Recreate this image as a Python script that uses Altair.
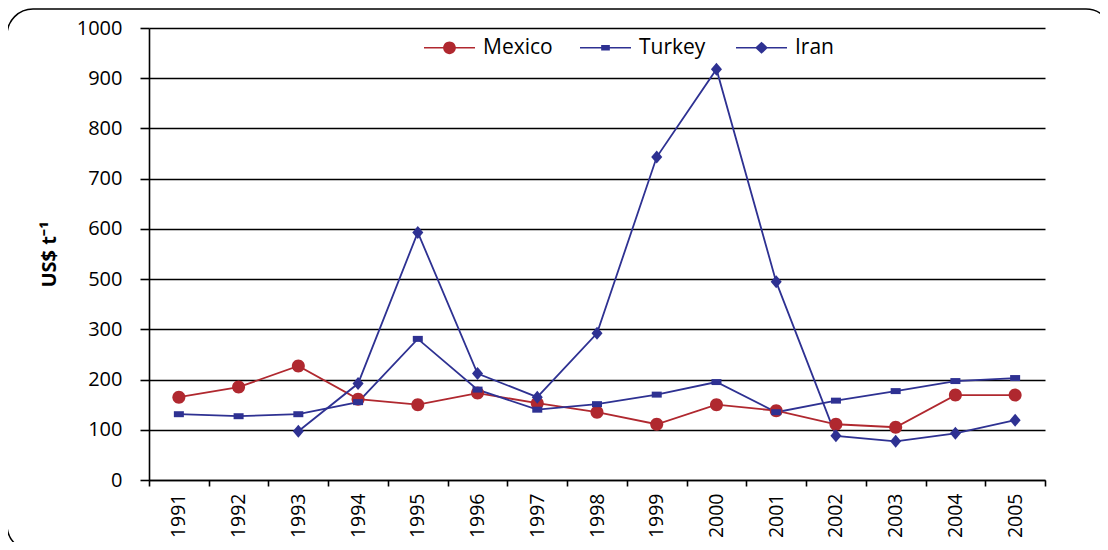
import altair as alt
import pandas as pd

years = [str(y) for y in range(1991, 2006)]
mexico = [165, 185, 227, 161, 150, 173, 153, 135, 111, 150, 138, 111, 105, 169, 169]
turkey = [131, 127, 131, 155, 281, 180, 140, 151, 170, 195, 135, 158, 177, 197, 203]
iran = [None, None, 97, 192, 593, 212, 165, 292, 743, 918, 489, 88, 77, 93, 119]

countries = ["Mexico", "Turkey", "Iran"]
colors = ["#B0282F", "#2E3192", "#2E3192"]
y_ticks = [0, 100, 200, 300, 500, 600, 700, 800, 900, 1000]

rows = []
for name, vals in zip(countries, [mexico, turkey, iran]):
    for yr, v in zip(years, vals):
        if v is not None:
            rows.append({"country": name, "year": yr, "value": v})
df = pd.DataFrame(rows)

W, H = 896, 452
FONT = "Open Sans"

# plot marker shapes (custom paths, size 169 -> 13px box)
plot_shapes = {
    "Mexico": "M1,0A1,1 0 1 1 -1,0A1,1 0 1 1 1,0Z",
    "Turkey": "M-0.77,-0.46H0.77V0.46H-0.77Z",
    "Iran": "M0,-1L0.85,0L0,1L-0.85,0Z",
}
# legend symbols: line + marker (size 2601 -> 51px box)
seg = "M-1,-0.03H1V0.03H-1Z "
legend_shapes = [
    seg + "M0.25,0A0.25,0.25 0 1 1 -0.25,0A0.25,0.25 0 1 1 0.25,0Z",
    seg + "M-0.17,-0.11H0.17V0.11H-0.17Z",
    seg + "M0,-0.24L0.25,0L0,0.24L-0.25,0Z",
]

x_enc = alt.X(
    "year:N",
    sort=years,
    scale=alt.Scale(paddingInner=0, paddingOuter=0),
    axis=alt.Axis(
        title=None, labelAngle=270, tickBand="extent", labelFontSize=19.5,
        labelFont=FONT, labelColor="black", labelPadding=7, tickSize=6,
        tickColor="black", tickWidth=1.6, domainColor="black", domainWidth=1.6,
        grid=False,
    ),
)
y_enc = alt.Y(
    "value:Q",
    scale=alt.Scale(domain=[0, 300, 500, 1000], range=[H, H * 6 / 9, H * 5 / 9, 0], nice=False, zero=False),
    axis=alt.Axis(
        values=y_ticks, format="d", title="US$ t⁻¹", titleFont=FONT, titleFontSize=20,
        titleFontWeight="bold", titleColor="black", titlePadding=17,
        labelFontSize=20, labelFont=FONT, labelColor="black", labelPadding=18,
        tickSize=9, tickColor="black", tickWidth=1.6, domainColor="black",
        domainWidth=1.6, grid=True, gridColor="black", gridWidth=1.6,
    ),
)

base = alt.Chart(df)

frame = alt.Chart(pd.DataFrame({"a": [0]})).mark_rect(
    fillOpacity=0, stroke="black", strokeWidth=1.5, cornerRadius=26
).encode(
    x=alt.value(-142), x2=alt.value(963), y=alt.value(-19), y2=alt.value(523)
)

line_layers = []
point_layers = []
for name, col in zip(countries, colors):
    sub = base.transform_filter(alt.datum.country == name)
    line_layers.append(
        sub.mark_line(strokeWidth=1.8, color=col).encode(x=x_enc, y=y_enc)
    )
    point_layers.append(
        sub.mark_point(filled=True, opacity=1, size=169, shape=plot_shapes[name], color=col)
        .encode(x=x_enc, y=y_enc)
    )

legend_def = alt.Legend(
    title=None, orient="none", legendX=275, legendY=-6, direction="horizontal",
    symbolSize=2601, labelFontSize=21, labelFont=FONT, labelColor="black",
    labelOffset=8, columnPadding=27, gridAlign="all", padding=0,
    symbolStrokeWidth=0,
)
legend_layer = base.mark_point(filled=True, opacity=1, size=0).encode(
    x=x_enc, y=y_enc,
    color=alt.Color("country:N", scale=alt.Scale(domain=countries, range=colors), legend=legend_def),
    shape=alt.Shape("country:N", scale=alt.Scale(domain=countries, range=legend_shapes), legend=legend_def),
)

chart = alt.layer(frame, *line_layers, *point_layers, legend_layer).properties(
    width=W, height=H,
    autosize=alt.AutoSizeParams(type="none"),
    padding={"left": 141, "top": 20, "right": 55, "bottom": 62},
).configure_view(strokeWidth=0)

chart.save("out.html", embed_options={"renderer": "svg", "actions": False})
